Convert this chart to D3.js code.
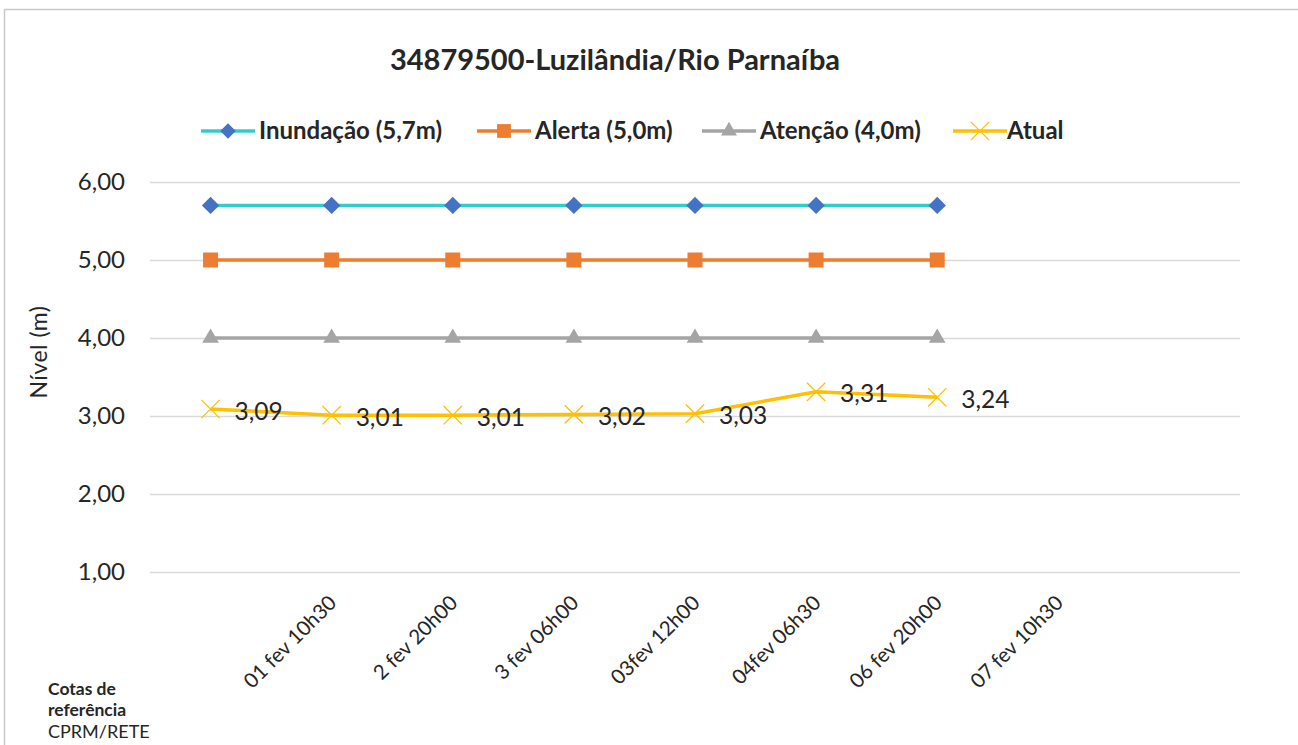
<!DOCTYPE html>
<html>
<head>
<meta charset="utf-8">
<script src="https://cdn.jsdelivr.net/npm/d3@7"></script>
<style>
  html, body { margin: 0; padding: 0; background: #fff; }
  svg { display: block; }
  text { font-family: Lato, "Open Sans", sans-serif; fill: #262626; }
</style>
</head>
<body>
<svg id="chart" width="1298" height="745"></svg>
<script>
// ---- data ----
const title = "34879500-Luzilândia/Rio Parnaíba";
const categories = ["", "01 fev 10h30", "2 fev 20h00", "3 fev 06h00", "03fev 12h00", "04fev 06h30", "06 fev 20h00", "07 fev 10h30", ""];
const inundacao = [5.7, 5.7, 5.7, 5.7, 5.7, 5.7, 5.7];
const alerta = [5.0, 5.0, 5.0, 5.0, 5.0, 5.0, 5.0];
const atencao = [4.0, 4.0, 4.0, 4.0, 4.0, 4.0, 4.0];
const atual = [3.09, 3.01, 3.01, 3.02, 3.03, 3.31, 3.24];
const seriesNames = ["Inundação (5,7m)", "Alerta (5,0m)", "Atenção (4,0m)", "Atual"];
const yTicks = [1, 2, 3, 4, 5, 6];
const yTitle = "Nível (m)";
const noteLines = ["Cotas de", "referência", "CPRM/RETE"];

// ---- setup ----
const svg = d3.select("#chart");
const W = 1298, H = 745;
const plot = { left: 150, right: 1240, top: 182, bottom: 572 };

const x = d3.scaleBand().domain(d3.range(categories.length)).range([plot.left, plot.right]);
const y = d3.scaleLinear().domain([1, 6]).range([plot.bottom, plot.top]);
const cx = i => x(i) + x.bandwidth() / 2;
const fmt = v => d3.format(".2f")(v).replace(".", ",");

// chart border
svg.append("rect").attr("x", 4.5).attr("y", 9.5).attr("width", W + 10).attr("height", H + 10)
  .attr("fill", "none").attr("stroke", "#c9c9c9").attr("stroke-width", 1.5);

// title
svg.append("text").attr("x", 615).attr("y", 70).attr("text-anchor", "middle")
  .attr("font-size", 29).attr("font-weight", "bold").attr("fill", "#0d0d0d").text(title);

// gridlines + y axis
const yAxis = d3.axisLeft(y).tickValues(yTicks).tickFormat(fmt).tickSize(-(plot.right - plot.left)).tickPadding(25);
const gy = svg.append("g").attr("transform", `translate(${plot.left},0)`).call(yAxis);
gy.select(".domain").remove();
gy.selectAll(".tick line").attr("stroke", "#d9d9d9").attr("stroke-width", 1.5);
gy.selectAll(".tick text").attr("font-size", 24).attr("font-family", "Lato, sans-serif").attr("fill", "#3a3a3a");

// y title
svg.append("text").attr("transform", `translate(47,352) rotate(-90)`).attr("text-anchor", "middle")
  .attr("font-size", 23).attr("letter-spacing", "0.5").attr("fill", "#1a1a1a").text(yTitle);

// x axis labels
const xAxis = d3.axisBottom(x).tickFormat(i => categories[i]).tickSize(0).tickPadding(0);
const gx = svg.append("g").attr("transform", `translate(0,${plot.bottom})`).call(xAxis);
gx.select(".domain").remove();
gx.selectAll(".tick text")
  .attr("font-size", 20.5).attr("font-family", "Lato, sans-serif").attr("fill", "#3a3a3a")
  .attr("text-anchor", "end").attr("dy", "0.35em").attr("y", 0)
  .attr("transform", "translate(1,27) rotate(-45)");

// series
const colors = { inund: "#33cccc", inundMk: "#4472c4", alerta: "#ed7d31", atencao: "#a5a5a5", atual: "#ffc000" };
const line = d3.line().x((d, i) => cx(i)).y(d => y(d));

function drawLine(data, color) {
  svg.append("path").datum(data).attr("d", line).attr("fill", "none")
    .attr("stroke", color).attr("stroke-width", 3.5).attr("stroke-linejoin", "round");
}
drawLine(inundacao, colors.inund);
drawLine(alerta, colors.alerta);
drawLine(atencao, colors.atencao);
drawLine(atual, colors.atual);

const square = d3.symbol().type(d3.symbolSquare).size(225)();
const tri = d3.symbol().type(d3.symbolTriangle).size(120)();
const cross = d3.symbol().type(d3.symbolX || d3.symbolCross).size(220)();

function markers(data, path, fill, stroke, sw, rot) {
  svg.append("g").selectAll("path").data(data).join("path")
    .attr("d", path)
    .attr("transform", (d, i) => `translate(${cx(i)},${y(d)})` + (rot ? ` rotate(${rot})` : ""))
    .attr("fill", fill).attr("stroke", stroke).attr("stroke-width", sw);
}
markers(inundacao, d3.symbol().type(d3.symbolSquare).size(150)(), colors.inundMk, "none", 0, 45);
markers(alerta, square, colors.alerta, "none", 0);
markers(atencao, tri, colors.atencao, "none", 0);
markers(atual, cross, "none", colors.atual, 1.3);

// data labels
svg.append("g").selectAll("text").data(atual).join("text")
  .attr("x", (d, i) => cx(i) + 24).attr("y", d => y(d) + 2).attr("dy", "0.35em")
  .attr("font-size", 24.5).attr("fill", "#262626").text(d => fmt(d));

// legend
const legY = 131;
const legLineX = [201, 477, 702, 953];
const legTextX = [259, 535, 760, 1007];
const legColors = [colors.inund, colors.alerta, colors.atencao, colors.atual];
const legMarks = [
  { p: d3.symbol().type(d3.symbolSquare).size(120)(), f: colors.inundMk, s: "none", rot: 45 },
  { p: d3.symbol().type(d3.symbolSquare).size(190)(), f: colors.alerta, s: "none" },
  { p: d3.symbol().type(d3.symbolTriangle).size(110)(), f: colors.atencao, s: "none" },
  { p: cross, f: "none", s: colors.atual, sw: 1.3 }
];
seriesNames.forEach((name, k) => {
  const g = svg.append("g");
  g.append("line").attr("x1", legLineX[k]).attr("x2", legLineX[k] + 54).attr("y1", legY).attr("y2", legY)
    .attr("stroke", legColors[k]).attr("stroke-width", 3.5);
  g.append("path").attr("d", legMarks[k].p)
    .attr("transform", `translate(${legLineX[k] + 27},${legY})` + (legMarks[k].rot ? ` rotate(${legMarks[k].rot})` : ""))
    .attr("fill", legMarks[k].f).attr("stroke", legMarks[k].s).attr("stroke-width", legMarks[k].sw || 0);
  g.append("text").attr("x", legTextX[k]).attr("y", legY).attr("dy", "0.35em")
    .attr("font-size", 24).attr("font-weight", "bold").attr("fill", "#1a1a1a").text(name);
});

// footnote
const note = svg.append("g");
note.append("text").attr("x", 48).attr("y", 695).attr("font-size", 17.5).attr("font-weight", "bold").attr("fill", "#0d0d0d").text(noteLines[0]);
note.append("text").attr("x", 48).attr("y", 716).attr("font-size", 17.5).attr("font-weight", "bold").attr("fill", "#0d0d0d").text(noteLines[1]);
note.append("text").attr("x", 48).attr("y", 738).attr("font-size", 18).attr("fill", "#262626").text(noteLines[2]);
</script>
</body>
</html>
